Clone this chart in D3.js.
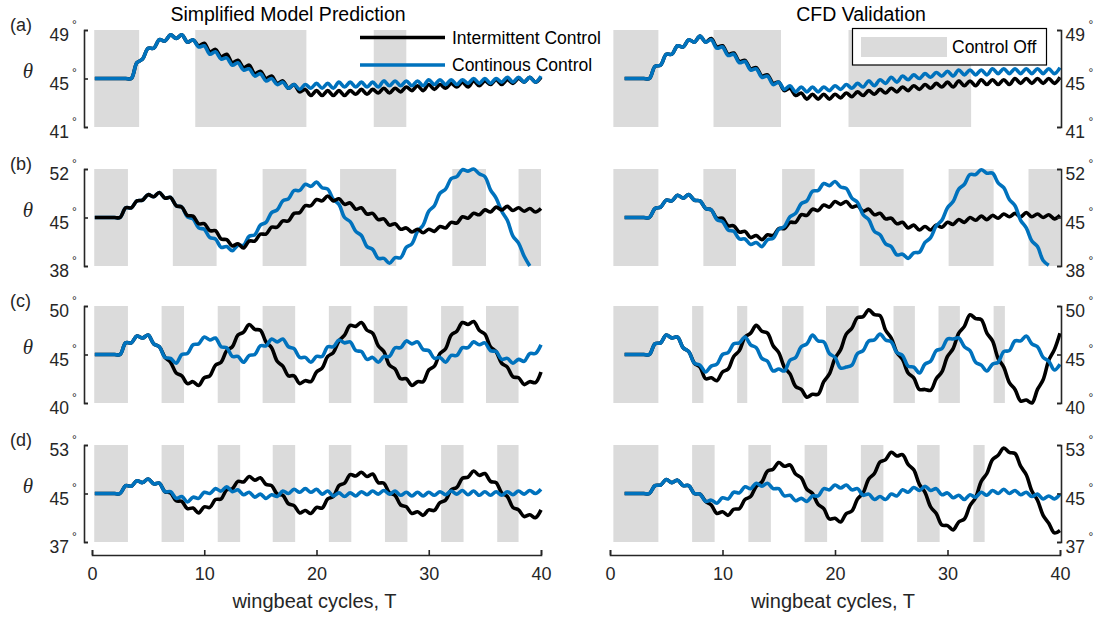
<!DOCTYPE html>
<html>
<head>
<meta charset="utf-8">
<script src="https://cdn.jsdelivr.net/npm/d3@7"></script>
<style>
  html, body { margin: 0; padding: 0; background: #fff; }
  svg { display: block; font-family: "Liberation Sans", Arial, Helvetica, sans-serif; }
</style>
</head>
<body>
<svg id="chart" width="1097" height="617"></svg>
<script>
// ---------------------------------------------------------------
// Sample times (wingbeat cycles). Model runs start at T = 0.25,
// CFD runs start at T = 1.3; both are sampled every half cycle.
// ---------------------------------------------------------------
const tModel = [0.25].concat(d3.range(1, 81).map(i => i * 0.5));
const tCFD   = [1.3].concat(d3.range(3, 81).map(i => i * 0.5));

const xTicks = [0, 10, 20, 30, 40];
const yTicksA = [41, 45, 49];
const yTicksB = [38, 45, 52];
const yTicksC = [40, 45, 50];
const yTicksD = [37, 45, 53];

// Control-off windows [start, end] in wingbeat cycles
const offAModel = [[0.2, 4.2], [9.2, 19.1], [25.1, 28.0]];
const offACFD   = [[0.3, 4.3], [9.2, 15.2], [21.2, 32.1]];
const offBModel = [[0.2, 3.2], [7.2, 11.1], [15.2, 19.1], [22.1, 27.1], [32.1, 35.1], [38.0, 40]];
const offBCFD   = [[0.3, 4.3], [8.3, 11.2], [15.3, 18.2], [22.2, 26.1], [30.1, 34.1], [37.2, 40]];
const offCModel = [[0.2, 3.2], [6.2, 8.2], [11.2, 13.2], [15.2, 18.1], [21.1, 23.1], [25.1, 28.1], [31.1, 33.1], [35.1, 38.0]];
const offCCFD   = [[0.3, 4.3], [7.3, 8.3], [11.3, 12.2], [15.3, 17.2], [19.2, 22.1], [25.2, 27.1], [29.2, 31.1], [34.1, 35.1]];
const offDModel = [[0.2, 3.2], [6.2, 8.2], [11.2, 13.2], [16.1, 18.1], [21.1, 23.1], [26.1, 28.1], [31.1, 33.1], [36.1, 38.0]];
const offDCFD   = [[0.3, 4.3], [7.3, 9.3], [12.3, 14.3], [17.3, 19.3], [22.3, 24.3], [27.3, 29.3], [32.3, 33.3]];

// Pitch angle theta (deg) — row (a)
const aModelIntermittent = [45.0,
  45.0,45.0,45.0,45.0,45.0,45.0,45.0,46.3,46.6,47.5,
  47.5,48.2,48.1,48.6,48.3,48.6,48.0,48.2,47.7,47.9,
  47.2,47.4,46.8,47.0,46.3,46.5,45.9,46.1,45.4,45.6,
  45.0,45.2,44.6,44.8,44.2,44.5,43.9,44.1,43.6,44.0,
  43.6,44.0,43.6,44.0,43.6,44.0,43.7,44.1,43.7,44.1,
  43.8,44.2,43.8,44.2,43.9,44.3,44.0,44.4,44.0,44.5,
  44.1,44.5,44.2,44.6,44.3,44.7,44.3,44.8,44.4,44.8,
  44.5,44.9,44.5,44.9,44.6,45.0,44.7,45.1,44.7,45.1];
const aModelContinuous = [45.0,
  45.0,45.0,45.0,45.0,45.0,45.0,45.0,46.3,46.6,47.5,
  47.5,48.2,48.1,48.6,48.3,48.6,48.0,48.2,47.6,47.7,
  47.0,47.2,46.6,46.7,46.1,46.3,45.7,45.8,45.2,45.4,
  44.8,45.0,44.5,44.7,44.2,44.5,44.1,44.5,44.2,44.6,
  44.2,44.6,44.2,44.7,44.3,44.7,44.3,44.7,44.3,44.7,
  44.3,44.8,44.4,44.8,44.4,44.8,44.4,44.8,44.4,44.9,
  44.5,44.9,44.5,44.9,44.5,44.9,44.6,45.0,44.6,45.0,
  44.6,45.0,44.7,45.1,44.7,45.1,44.7,45.1,44.7,45.2];
const aCFDIntermittent = [45.0,
  45.0,45.0,45.0,45.0,45.0,46.0,46.1,47.0,
  47.0,47.7,47.6,48.2,48.0,48.5,48.0,48.3,47.6,47.7,
  47.0,47.1,46.4,46.5,45.8,45.9,45.2,45.3,44.6,44.7,
  44.0,44.2,43.6,43.8,43.3,43.7,43.3,43.7,43.3,43.7,
  43.4,43.8,43.5,43.9,43.6,44.0,43.7,44.1,43.8,44.2,
  43.9,44.3,44.0,44.4,44.1,44.5,44.2,44.6,44.3,44.7,
  44.3,44.8,44.4,44.8,44.4,44.9,44.5,44.9,44.5,44.9,
  44.5,45.0,44.6,45.0,44.6,45.0,44.6,45.0,44.6,45.1];
const aCFDContinuous = [45.0,
  45.0,45.0,45.0,45.0,45.0,46.0,46.1,47.0,
  47.0,47.7,47.6,48.2,48.0,48.5,48.0,48.2,47.5,47.6,
  46.9,47.0,46.3,46.4,45.7,45.8,45.1,45.2,44.5,44.7,
  44.1,44.4,43.9,44.3,43.9,44.3,43.9,44.3,44.0,44.4,
  44.1,44.5,44.2,44.6,44.3,44.8,44.4,44.9,44.6,45.1,
  44.7,45.2,44.9,45.3,45.0,45.4,45.1,45.5,45.2,45.6,
  45.2,45.7,45.3,45.7,45.3,45.7,45.3,45.8,45.4,45.8,
  45.4,45.8,45.4,45.8,45.4,45.8,45.4,45.8,45.4,45.9];

// row (b)
const bModelIntermittent = [45.0,
  45.0,45.0,45.0,45.0,45.0,46.4,46.4,47.4,47.5,48.3,
  48.0,48.6,47.8,47.9,46.7,46.5,45.3,45.2,44.1,44.1,
  43.1,43.1,41.9,41.8,40.9,41.2,40.6,41.6,41.6,42.6,
  42.6,43.6,43.6,44.5,44.5,45.6,45.7,46.7,46.7,47.6,
  47.4,48.1,47.4,47.7,46.9,47.1,46.2,46.4,45.5,45.6,
  44.7,44.8,43.9,44.1,43.3,43.5,42.9,43.3,42.8,43.3,
  43.0,43.7,43.5,44.3,44.2,45.1,44.9,45.6,45.4,46.1,
  45.8,46.5,46.1,46.6,46.0,46.4,45.9,46.3,45.8,46.3];
const bModelContinuous = [45.0,
  45.0,45.0,45.0,45.0,45.0,46.4,46.4,47.4,47.5,48.3,
  48.0,48.6,47.8,47.9,46.7,46.5,45.1,44.8,43.5,43.3,
  42.1,41.9,40.7,40.8,40.2,41.0,41.0,42.3,42.5,43.9,
  44.3,45.7,46.1,47.4,47.7,48.9,48.9,49.8,49.5,50.1,
  49.3,49.1,47.6,46.9,45.0,44.4,43.0,42.4,40.8,40.4,
  39.1,39.1,38.4,39.2,39.2,40.7,41.2,43.0,43.9,45.9,
  46.7,48.5,49.1,50.6,50.9,51.9,51.7,52.0,51.3,50.9,
  49.0,47.8,45.9,44.6,42.3,41.3,39.4,38.0];
const bCFDIntermittent = [45.0,
  45.0,45.0,45.0,45.0,45.0,46.3,46.5,47.5,
  47.4,48.2,47.8,48.3,47.5,47.4,46.3,46.1,44.9,44.9,
  43.8,43.8,42.9,43.0,42.1,42.4,41.8,42.5,42.4,43.4,
  43.4,44.3,44.3,45.4,45.3,46.2,46.0,46.8,46.5,47.3,
  46.9,47.3,46.5,46.7,45.9,46.2,45.4,45.6,44.8,44.9,
  44.1,44.3,43.5,43.9,43.2,43.7,43.2,43.9,43.6,44.3,
  44.0,44.7,44.3,45.0,44.6,45.2,44.7,45.3,44.9,45.5,
  45.1,45.6,45.1,45.7,45.1,45.5,45.0,45.4,44.8,45.3];
const bCFDContinuous = [45.0,
  45.0,45.0,45.0,45.0,45.0,46.3,46.5,47.5,
  47.4,48.2,47.8,48.3,47.5,47.4,46.3,46.1,44.7,44.4,
  43.2,43.0,41.9,41.9,41.1,41.4,40.8,41.8,42.0,43.3,
  43.7,45.1,45.6,47.0,47.4,48.8,48.9,49.9,49.6,50.2,
  49.4,49.2,47.8,47.2,45.4,44.7,43.0,42.5,41.2,40.8,
  39.6,39.7,39.1,39.9,40.0,41.4,42.1,43.8,44.6,46.4,
  47.3,49.1,49.8,51.2,51.2,51.9,51.4,51.4,50.0,49.3,
  47.6,46.7,44.6,43.5,41.6,40.8,38.8,38.1];

// row (c)
const cModelIntermittent = [45.0,
  45.0,45.0,45.0,45.0,45.0,46.2,46.2,46.9,46.7,47.0,
  46.1,45.8,44.7,44.2,43.1,42.8,42.0,42.2,41.8,42.6,
  42.8,43.9,44.2,45.4,45.8,47.0,47.3,48.1,47.6,47.5,
  46.3,45.7,44.3,43.8,42.8,42.8,42.0,42.3,42.2,43.2,
  43.6,44.8,45.2,46.4,47.0,48.0,47.9,48.3,47.5,47.2,
  45.9,45.3,43.9,43.5,42.5,42.5,41.8,42.2,42.2,43.4,
  43.8,45.1,45.6,47.0,47.4,48.3,48.1,48.4,47.5,47.1,
  45.8,45.3,44.1,43.7,42.7,42.6,41.9,42.2,42.1,43.2];
const cModelContinuous = [45.0,
  45.0,45.0,45.0,45.0,45.0,46.2,46.2,46.9,46.7,47.0,
  46.1,45.8,44.7,44.6,44.1,45.0,45.1,46.0,46.1,46.8,
  46.5,46.7,45.8,45.7,44.8,44.8,44.2,44.9,45.0,45.9,
  45.9,46.6,46.3,46.6,45.8,45.6,44.7,44.7,44.2,44.8,
  44.8,45.8,45.8,46.5,46.2,46.3,45.4,45.3,44.5,44.7,
  44.2,44.8,44.8,45.7,45.7,46.4,46.1,46.3,45.5,45.4,
  44.6,44.7,44.2,44.9,44.9,45.7,45.7,46.3,46.0,46.2,
  45.4,45.3,44.5,44.6,44.1,44.5,44.3,45.1,45.1,46.0];
const cCFDIntermittent = [45.0,
  45.0,45.0,45.0,45.0,45.0,46.1,46.2,47.0,
  46.7,46.8,45.7,45.3,44.1,43.7,42.5,42.6,42.3,43.2,
  43.5,44.8,45.4,46.8,47.2,48.0,47.4,47.2,45.9,45.2,
  43.7,43.0,41.7,41.4,40.6,40.9,40.9,42.2,43.0,44.6,
  45.5,47.1,47.7,48.8,48.9,49.6,49.1,49.0,47.5,46.7,
  45.2,44.5,43.1,42.6,41.4,41.4,41.3,42.5,43.2,44.8,
  45.6,47.2,47.9,49.1,48.7,48.6,47.2,46.4,44.6,43.7,
  42.1,41.4,40.2,40.3,40.0,41.4,42.4,44.4,45.5,47.2];
const cCFDContinuous = [45.0,
  45.0,45.0,45.0,45.0,45.0,46.1,46.2,47.0,
  46.7,46.8,45.7,45.3,44.1,43.9,43.2,43.8,44.0,45.0,
  45.2,46.1,46.2,46.8,46.0,45.7,44.6,44.3,43.3,43.5,
  43.3,44.4,44.7,45.8,46.1,47.0,46.4,46.3,45.1,44.7,
  43.6,43.7,43.9,45.1,45.4,46.4,46.5,47.1,46.5,46.3,
  45.2,44.9,43.8,43.7,43.1,44.0,44.3,45.4,45.6,46.6,
  46.6,46.7,45.8,45.4,44.2,43.9,43.3,44.0,44.2,45.3,
  45.4,46.4,46.4,46.9,46.1,45.8,44.7,44.3,43.4,44.0];

// row (d)
const dModelIntermittent = [45.0,
  45.0,45.0,45.0,45.0,45.0,46.3,46.2,47.1,46.8,47.4,
  46.6,46.7,45.3,45.1,43.8,43.7,42.5,42.6,41.8,42.8,
  42.7,44.0,44.1,45.6,45.8,47.0,46.9,47.8,47.2,47.6,
  46.5,46.3,44.9,44.7,43.3,43.0,41.8,42.2,41.7,42.7,
  42.6,44.1,44.5,46.3,46.7,48.1,47.9,48.5,47.8,48.2,
  46.8,46.7,45.1,44.7,43.1,42.8,41.7,42.0,41.4,42.3,
  42.2,43.5,43.9,45.6,46.0,47.5,47.7,48.7,48.0,48.3,
  47.0,46.8,45.1,44.5,42.7,42.3,41.2,41.5,41.0,42.3];
const dModelContinuous = [45.0,
  45.0,45.0,45.0,45.0,45.0,46.3,46.2,47.1,46.8,47.4,
  46.6,46.7,45.3,45.3,44.2,44.5,43.6,44.4,44.2,45.2,
  45.0,45.8,45.4,46.1,45.3,45.6,44.8,45.2,44.4,44.9,
  44.2,44.8,44.5,45.4,45.0,45.7,45.2,45.8,45.2,45.7,
  44.9,45.4,44.6,45.1,44.5,45.1,44.6,45.3,44.8,45.4,
  44.9,45.5,44.9,45.4,44.7,45.2,44.6,45.2,44.6,45.2,
  44.7,45.3,44.8,45.4,44.9,45.5,44.8,45.4,44.7,45.3,
  44.7,45.3,44.7,45.3,44.8,45.4,44.9,45.5,45.0,45.7];
const dCFDIntermittent = [45.0,
  45.0,45.0,45.0,45.0,45.0,46.3,46.4,47.3,
  46.8,47.2,46.3,46.3,45.0,44.9,43.7,43.1,41.7,42.0,
  41.4,42.4,42.5,44.0,44.5,46.2,46.9,48.7,49.0,50.1,
  49.5,49.7,48.2,47.6,45.7,45.0,43.2,42.5,40.8,40.9,
  40.3,41.7,42.1,44.1,45.1,47.4,48.3,50.2,50.6,51.8,
  51.2,51.4,49.8,48.9,46.5,45.2,42.8,41.7,39.8,39.7,
  39.0,40.3,40.8,43.0,44.3,47.0,48.3,50.6,51.3,52.5,
  51.8,51.6,49.5,48.1,45.4,43.9,41.4,40.1,38.5,38.9];
const dCFDContinuous = [45.0,
  45.0,45.0,45.0,45.0,45.0,46.3,46.4,47.3,
  46.8,47.2,46.3,46.3,45.0,44.9,43.7,43.9,43.4,44.3,
  44.1,45.2,45.1,46.1,45.8,46.7,46.2,46.7,45.8,45.8,
  44.6,44.7,43.8,44.2,43.7,44.6,44.6,45.8,45.6,46.4,
  45.9,46.4,45.6,45.8,44.7,44.9,44.0,44.5,44.0,44.9,
  44.6,45.6,45.2,46.0,45.5,46.2,45.5,45.8,44.8,45.1,
  44.3,44.7,44.0,44.8,44.4,45.2,44.7,45.5,45.0,45.7,
  45.0,45.5,44.8,45.2,44.5,44.9,44.1,44.6,44.1,44.9];

const columnTitles = ["Simplified Model Prediction", "CFD Validation"];
const rowLabels = ["(a)", "(b)", "(c)", "(d)"];
const legendNames = ["Intermittent Control", "Continous Control"];
const offLegendName = "Control Off";
const xLabel = "wingbeat cycles, T";
const yLabel = "\u03B8";

// ---------------------------------------------------------------
// Layout and styling
// ---------------------------------------------------------------
const INK = "#262626";
const GREY = "#dbdbdb";
const BLUE = "#0072bd";
const BLACK = "#000000";
const rowTop = [30, 169, 306, 445];
const rowH = 97;
const colRange = [[92, 541], [610, 1060]];
const yAxisX = [84, 1061];
const xAxisY = 555;

const panels = [
  { row: 0, col: 0, ticks: yTicksA, off: offAModel, t: tModel, black: aModelIntermittent, blue: aModelContinuous, blackOnTop: false },
  { row: 0, col: 1, ticks: yTicksA, off: offACFD,   t: tCFD,   black: aCFDIntermittent,   blue: aCFDContinuous,   blackOnTop: false },
  { row: 1, col: 0, ticks: yTicksB, off: offBModel, t: tModel, black: bModelIntermittent, blue: bModelContinuous, blackOnTop: true },
  { row: 1, col: 1, ticks: yTicksB, off: offBCFD,   t: tCFD,   black: bCFDIntermittent,   blue: bCFDContinuous,   blackOnTop: false },
  { row: 2, col: 0, ticks: yTicksC, off: offCModel, t: tModel, black: cModelIntermittent, blue: cModelContinuous, blackOnTop: false },
  { row: 2, col: 1, ticks: yTicksC, off: offCCFD,   t: tCFD,   black: cCFDIntermittent,   blue: cCFDContinuous,   blackOnTop: false },
  { row: 3, col: 0, ticks: yTicksD, off: offDModel, t: tModel, black: dModelIntermittent, blue: dModelContinuous, blackOnTop: false },
  { row: 3, col: 1, ticks: yTicksD, off: offDCFD,   t: tCFD,   black: dCFDIntermittent,   blue: dCFDContinuous,   blackOnTop: false }
];

const svg = d3.select("#chart");
const xScales = colRange.map(r => d3.scaleLinear().domain([0, 40]).range(r));

panels.forEach(p => {
  const x = xScales[p.col];
  const lo = p.ticks[0], hi = p.ticks[p.ticks.length - 1];
  const top = rowTop[p.row];
  const y = d3.scaleLinear().domain([lo, hi]).range([top + rowH, top]);
  const g = svg.append("g");

  // control-off windows
  g.selectAll("rect.off").data(p.off).join("rect")
    .attr("class", "off")
    .attr("x", d => x(d[0]))
    .attr("width", d => x(d[1]) - x(d[0]))
    .attr("y", y(hi))
    .attr("height", y(lo) - y(hi))
    .attr("fill", GREY);

  const line = d3.line()
    .x(d => x(d[0]))
    .y(d => y(d[1]))
    .curve(d3.curveCatmullRom.alpha(0.5));

  const series = [
    { v: p.black, color: BLACK },
    { v: p.blue, color: BLUE }
  ];
  if (p.blackOnTop) series.reverse();

  series.forEach(s => {
    g.append("path")
      .datum(s.v.map((v, i) => [p.t[i], v]))
      .attr("d", line)
      .attr("fill", "none")
      .attr("stroke", s.color)
      .attr("stroke-width", 3.6)
      .attr("stroke-linejoin", "round")
      .attr("stroke-linecap", "butt");
  });

  // y axis (bracket with inward ticks)
  const axis = (p.col === 0 ? d3.axisLeft(y) : d3.axisRight(y))
    .tickValues(p.ticks).tickSizeInner(-4).tickSizeOuter(-4).tickFormat("");
  const ag = g.append("g")
    .attr("transform", `translate(${yAxisX[p.col]},0)`)
    .call(axis);
  ag.select(".domain").attr("stroke", INK).attr("stroke-width", 1.6);
  ag.selectAll(".tick line").attr("stroke", INK).attr("stroke-width", 1.6);

  // tick labels with raised degree sign
  p.ticks.forEach(t => {
    const ty = y(t);
    const num = g.append("text")
      .attr("y", ty + 11)
      .attr("font-size", 17.5)
      .attr("fill", INK)
      .text(t);
    let degX;
    if (p.col === 0) {
      num.attr("x", 69).attr("text-anchor", "end");
      degX = 72;
    } else {
      num.attr("x", 1065.5).attr("text-anchor", "start");
      degX = 1065.5 + num.node().getComputedTextLength() + 3.5;
    }
    g.append("text")
      .attr("x", degX)
      .attr("y", ty - 1.5)
      .attr("font-size", 12)
      .attr("fill", INK)
      .text("\u00B0");
  });

  if (p.col === 0) {
    g.append("text")
      .attr("x", 28)
      .attr("y", y(45) - 0.5)
      .attr("text-anchor", "middle")
      .attr("font-family", "'Liberation Serif', 'DejaVu Serif', serif")
      .attr("font-style", "italic")
      .attr("font-size", 21)
      .attr("fill", INK)
      .text(yLabel);
    g.append("text")
      .attr("x", 10)
      .attr("y", top + 0.5)
      .attr("font-size", 18)
      .attr("fill", INK)
      .text(rowLabels[p.row]);
  }
});

// x axes and labels
xScales.forEach((x, c) => {
  const ag = svg.append("g")
    .attr("transform", `translate(0,${xAxisY})`)
    .call(d3.axisBottom(x).tickValues(xTicks)
      .tickSizeInner(-5).tickSizeOuter(-5).tickPadding(12));
  ag.select(".domain").attr("stroke", INK).attr("stroke-width", 1.6);
  ag.selectAll(".tick line").attr("stroke", INK).attr("stroke-width", 1.6);
  ag.selectAll(".tick text")
    .attr("font-size", 18)
    .attr("font-family", "'Liberation Sans', Arial, sans-serif")
    .attr("fill", INK);

  svg.append("text")
    .attr("x", (x.range()[0] + x.range()[1]) / 2 - 2)
    .attr("y", 608)
    .attr("text-anchor", "middle")
    .attr("font-size", 20)
    .attr("fill", INK)
    .text(xLabel);
});

// column titles
svg.append("text").attr("x", 288).attr("y", 21).attr("text-anchor", "middle")
  .attr("font-size", 19.5).attr("fill", "#000").text(columnTitles[0]);
svg.append("text").attr("x", 861).attr("y", 21).attr("text-anchor", "middle")
  .attr("font-size", 19.5).attr("fill", "#000").text(columnTitles[1]);

// series legend (no frame)
const legendRows = [
  { name: legendNames[0], color: BLACK, y: 37.5 },
  { name: legendNames[1], color: BLUE, y: 65 }
];
legendRows.forEach(r => {
  svg.append("line")
    .attr("x1", 360).attr("x2", 445)
    .attr("y1", r.y).attr("y2", r.y)
    .attr("stroke", r.color).attr("stroke-width", 3.6);
  svg.append("text")
    .attr("x", 452).attr("y", r.y + 6.4)
    .attr("font-size", 17.5).attr("fill", "#000")
    .text(r.name);
});

// control-off legend (framed)
svg.append("rect")
  .attr("x", 852.5).attr("y", 28.5).attr("width", 194).attr("height", 36.5)
  .attr("fill", "#fff").attr("stroke", "#000").attr("stroke-width", 1.2);
svg.append("rect")
  .attr("x", 861).attr("y", 37).attr("width", 86).attr("height", 20)
  .attr("fill", GREY);
svg.append("text")
  .attr("x", 952).attr("y", 53.3)
  .attr("font-size", 17.5).attr("fill", "#000")
  .text(offLegendName);
</script>
</body>
</html>
